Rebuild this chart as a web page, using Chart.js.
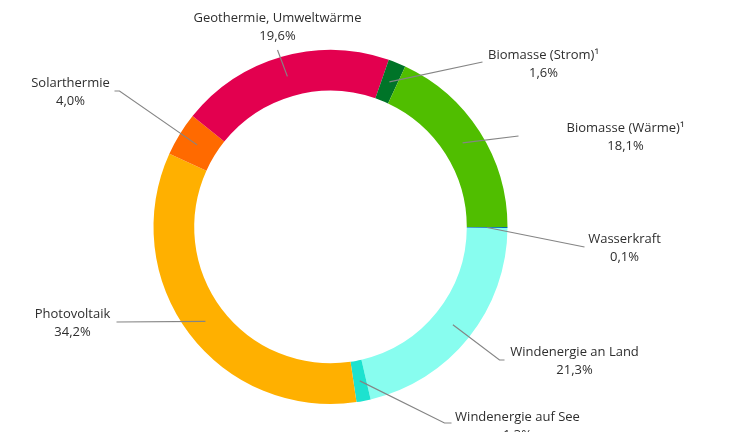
<!DOCTYPE html>
<html>
<head>
<meta charset="utf-8">
<script src="https://cdn.jsdelivr.net/npm/chart.js@4"></script>
<style>
  html, body { margin: 0; padding: 0; background: #fff; }
  #wrap { width: 745px; height: 432px; }
</style>
</head>
<body>
<div id="wrap"><canvas id="myChart" width="745" height="432"></canvas></div>
<script>
// data, clockwise starting at 3 o'clock
const categories = ['Wasserkraft', 'Windenergie an Land', 'Windenergie auf See', 'Photovoltaik',
    'Solarthermie', 'Geothermie, Umweltwärme', 'Biomasse (Strom)\u00b9', 'Biomasse (Wärme)\u00b9'];
const shares = [0.1, 21.3, 1.3, 34.2, 4.0, 19.6, 1.6, 18.1];
const colors = ['#0069b4', '#88fdef', '#1de2cf', '#ffb000', '#ff6a00', '#e3004f', '#007428', '#50be00'];

// label placement, offsets from the ring centre (text = first line centre, path = leader line end)
const labelPos = [
    { tx: 294, ty: 12, path: [[254, 20]] },
    { tx: 244, ty: 125, path: [[169, 133], [174, 133]] },
    { tx: 187, ty: 190, path: [[114, 196], [121, 196]] },
    { tx: -258, ty: 87, path: [[-214, 95]] },
    { tx: -260, ty: -144, path: [[-211, -136], [-216, -136]] },
    { tx: -53, ty: -209, path: [[-53, -177]] },
    { tx: 213, ty: -172, path: [[152, -165]] },
    { tx: 295, ty: -99, path: [[188, -91]] }
];

const fmt = v => v.toFixed(1).replace('.', ',') + '%';

const leaderLabels = {
    id: 'leaderLabels',
    afterDatasetsDraw(chart) {
        const ctx = chart.ctx;
        const meta = chart.getDatasetMeta(0);
        ctx.save();
        meta.data.forEach((arc, i) => {
            const p = arc.getProps(['x', 'y', 'startAngle', 'endAngle', 'innerRadius', 'outerRadius'], true);
            const mid = (p.startAngle + p.endAngle) / 2;
            const r = (p.innerRadius + p.outerRadius) / 2;
            const lp = labelPos[i];
            ctx.beginPath();
            ctx.moveTo(p.x + Math.cos(mid) * r, p.y + Math.sin(mid) * r);
            lp.path.forEach(pt => ctx.lineTo(p.x + pt[0], p.y + pt[1]));
            ctx.strokeStyle = '#858585';
            ctx.lineWidth = 1.2;
            ctx.stroke();

            ctx.fillStyle = '#2e2e2e';
            ctx.font = '13px "Open Sans"';
            ctx.textAlign = 'center';
            ctx.textBaseline = 'middle';
            ctx.fillText(categories[i], p.x + lp.tx, p.y + lp.ty);
            ctx.fillText(fmt(shares[i]), p.x + lp.tx, p.y + lp.ty + 18);
        });
        ctx.restore();
    }
};

new Chart(document.getElementById('myChart'), {
    type: 'doughnut',
    data: {
        labels: categories,
        datasets: [{
            data: shares,
            backgroundColor: colors,
            borderWidth: 0
        }]
    },
    options: {
        responsive: false,
        animation: false,
        rotation: 90,
        cutout: '77%',
        layout: { padding: { top: 50, bottom: 28, left: 153, right: 237 } },
        plugins: {
            legend: { display: false },
            tooltip: { enabled: false }
        }
    },
    plugins: [leaderLabels]
});
</script>
</body>
</html>
